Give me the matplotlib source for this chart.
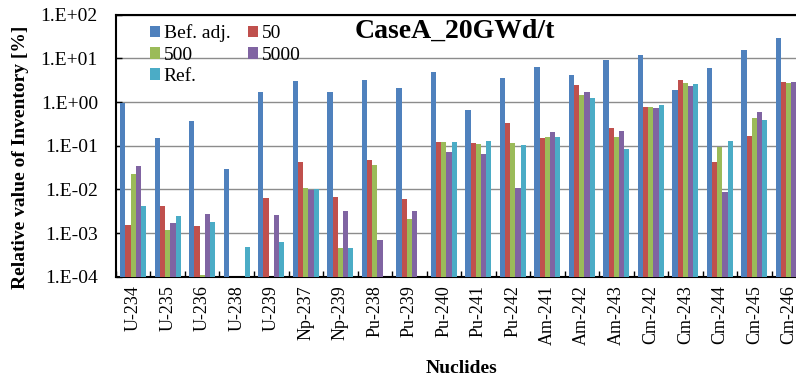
import numpy as np
import matplotlib
matplotlib.use('Agg')
from matplotlib import pyplot as plt
from matplotlib.ticker import FixedLocator, FuncFormatter, NullLocator

plt.rcParams['font.family'] = ['Liberation Serif', 'DejaVu Serif']

nuclides = ['U-234', 'U-235', 'U-236', 'U-238', 'U-239', 'Np-237', 'Np-239',
            'Pu-238', 'Pu-239', 'Pu-240', 'Pu-241', 'Pu-242', 'Am-241', 'Am-242',
            'Am-243', 'Cm-242', 'Cm-243', 'Cm-244', 'Cm-245', 'Cm-246']

# relative inventory [%]; None = below the plotted range
bef_adj = [0.97, 0.15, 0.374, 0.0292, 1.69, 3.03, 1.69, 3.13, 2.06, 4.86,
           0.656, 3.48, 6.2, 4.15, 9.0, 11.9, 1.88, 6.1, 15.2, 29.2]
v50 = [0.0015, 0.0041, 0.00145, None, 0.0063, 0.0415, 0.0067, 0.0477, 0.0059, 0.124,
       0.113, 0.33, 0.150, 2.41, 0.249, 0.767, 3.25, 0.0423, 0.166, 2.87]
v500 = [0.0224, 0.00117, 0.00011, None, None, 0.0107, 0.00045, 0.0355, 0.00213, 0.119,
        0.109, 0.113, 0.157, 1.45, 0.161, 0.79, 2.68, 0.095, 0.438, 2.77]
v5000 = [0.035, 0.00173, 0.00277, None, 0.00258, 0.0095, 0.00313, 0.00069, 0.00319, 0.073,
         0.0656, 0.0105, 0.202, 1.69, 0.213, 0.75, 2.32, 0.00885, 0.60, 2.9]
ref = [0.0042, 0.00245, 0.00179, 0.00047, 0.00064, 0.0102, 0.00045, None, None, 0.121,
       0.126, 0.105, 0.157, 1.26, 0.084, 0.84, 2.54, 0.126, 0.394, 2.06]

series = [('Bef. adj.', bef_adj, '#4F81BD'),
          ('50', v50, '#C0504D'),
          ('500', v500, '#9BBB59'),
          ('5000', v5000, '#8064A2'),
          ('Ref.', ref, '#4BACC6')]

fig = plt.figure(figsize=(7.96, 3.83), dpi=100)
ax = fig.add_axes([0.1457, 0.2775, 0.867, 0.684])

ymin = 1e-4
x = np.arange(len(nuclides))
w = 0.15
handles = {}
for i, (name, vals, col) in enumerate(series):
    xs = [xx + (i - 2) * w for xx, v in zip(x, vals) if v is not None]
    hs = [v - ymin for v in vals if v is not None]
    b = ax.bar(xs, hs, width=w, bottom=ymin, color=col, edgecolor='none', zorder=3)
    handles[name] = b

ax.set_yscale('log')
ax.set_ylim(1e-4, 1e2)
ax.set_xlim(-0.5, len(nuclides) - 0.5)
ax.yaxis.set_major_locator(FixedLocator([10.0 ** k for k in range(-4, 3)]))
ax.yaxis.set_minor_locator(NullLocator())
ax.yaxis.set_major_formatter(FuncFormatter(lambda v, p: '1.E%+03d' % int(round(np.log10(v)))))
ax.grid(axis='y', color='#8c8c8c', linewidth=1.0, zorder=0)

ax.set_xticks(x)
ax.set_xticklabels(nuclides, rotation=90, fontsize=13)
ax.set_xticks(np.arange(len(nuclides) + 1) - 0.5, minor=True)
ax.tick_params(axis='x', which='major', length=0, pad=6)
ax.tick_params(axis='x', which='minor', direction='in', length=4, width=1)
ax.tick_params(axis='y', direction='in', length=4, width=1, labelsize=14, pad=13)

for s in ['left', 'bottom', 'top']:
    ax.spines[s].set_linewidth(1.5)
ax.spines['right'].set_visible(False)

ax.set_ylabel('Relative value of Inventory [%]', fontsize=14, fontweight='bold')
ax.yaxis.set_label_coords(-0.126, 0.457)
ax.set_xlabel('Nuclides', fontsize=14, fontweight='bold')
ax.xaxis.set_label_coords(0.5, -0.352)
ax.xaxis.label.set_va('center')

ax.text(0.346, 0.911, 'CaseA_20GWd/t', transform=ax.transAxes, fontsize=20,
        fontweight='bold', ha='left', va='baseline')

order = ['Bef. adj.', '500', 'Ref.', '50', '5000']
ax.legend([handles[k] for k in order], order, ncol=2, frameon=False, fontsize=14,
          loc='upper left', bbox_to_anchor=(0.032, 1.007), handlelength=0.52,
          handleheight=0.52, handletextpad=0.2, columnspacing=0.9, labelspacing=0.22,
          borderaxespad=0.2)

fig.savefig('out.png', dpi=100)
